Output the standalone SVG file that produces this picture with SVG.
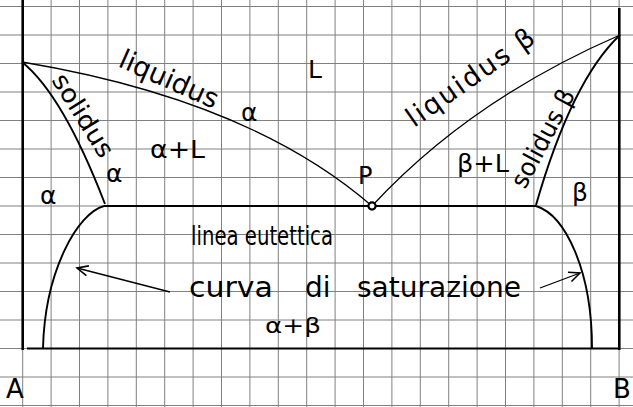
<svg xmlns="http://www.w3.org/2000/svg" width="633" height="407" viewBox="0 0 633 407">
<defs>
<style>
.grid{stroke:#808080;stroke-width:1;fill:none}
.ax{stroke:#000;stroke-width:2.6;fill:none}
.cv{stroke:#000;stroke-width:1.3;fill:none}
.cvb{stroke:#000;stroke-width:1.9;fill:none}
.t{font-family:"DejaVu Sans","Liberation Sans",sans-serif;fill:#000}
</style>
<marker id="ah" markerWidth="14" markerHeight="12" refX="12" refY="6" orient="auto" markerUnits="userSpaceOnUse">
<path d="M1,1 L12,6 L1,11" fill="none" stroke="#000" stroke-width="1.6"/>
</marker>
</defs>
<rect width="633" height="407" fill="#fff"/>
<g id="grid" class="grid">
<path d="M51.1,0V407M79.5,0V407M107.9,0V407M136.3,0V407M164.7,0V407M193.1,0V407M221.5,0V407M249.9,0V407M278.3,0V407M306.7,0V407M335.1,0V407M363.5,0V407M391.9,0V407M420.3,0V407M448.7,0V407M477.1,0V407M505.5,0V407M533.9,0V407M562.3,0V407M590.7,0V407M22.7,0V407M619.1,0V407"/>
<path d="M0,6.5H633M0,35H633M0,63.5H633M0,92H633M0,120.5H633M0,149H633M0,177.5H633M0,206H633M0,234.5H633M0,263H633M0,291.5H633M0,320H633M0,348.5H633M0,377H633M0,405.5H633"/>
</g>
<g id="axes">
<path class="ax" d="M22.7,0V350"/>
<path class="ax" d="M619.3,8V350"/>
<path class="cvb" d="M27,348.5H620"/>
</g>
<g id="connectors">
<path id="liquidus-alpha" class="cv" d="M22,62 Q250,100 372,206"/>
<path id="liquidus-beta" class="cv" d="M372,206 Q470,100 620,35"/>
<path id="solidus-alpha" class="cvb" d="M22,62 Q63,95 105,204"/>
<path id="solidus-beta" class="cvb" d="M620,35 Q572,80 536,205"/>
<path id="eutettica" class="cvb" d="M104,206H536"/>
<path id="solvus-alpha" class="cvb" d="M104,206 C78,213 45,270 43,348"/>
<path id="solvus-beta" class="cvb" d="M536,206 C565,215 592,270 592,348"/>
<path class="cv" d="M170,292 L77,268" marker-end="url(#ah)" stroke-width="1.6"/>
<path class="cv" d="M540,288 L580,273" marker-end="url(#ah)" stroke-width="1.6"/>
</g>
<g id="P">
<circle cx="372" cy="206" r="3.6" fill="#fff" stroke="#000" stroke-width="2.2"/>
<text class="t" x="358" y="184" style="font-size:24px">P</text>
</g>
<g id="labels">
<text class="t" transform="translate(117,66) rotate(24)" textLength="106" lengthAdjust="spacingAndGlyphs" style="font-size:27px">liquidus</text>
<text class="t" x="241" y="121" style="font-size:25px">α</text>
<text class="t" x="308" y="78" style="font-size:25px">L</text>
<text class="t" transform="translate(51,80) rotate(58)" textLength="94" lengthAdjust="spacingAndGlyphs" style="font-size:25px">solidus</text>
<text class="t" x="106" y="182" style="font-size:25px">α</text>
<text class="t" x="150" y="158" textLength="55" lengthAdjust="spacingAndGlyphs" style="font-size:24px">α+L</text>
<text class="t" x="40" y="204" style="font-size:25px">α</text>
<text class="t" transform="translate(414,128) rotate(-35)" textLength="150" lengthAdjust="spacing" style="font-size:27px">liquidus β</text>
<text class="t" x="457" y="172" textLength="52" lengthAdjust="spacingAndGlyphs" style="font-size:24px">β+L</text>
<text class="t" transform="translate(525,190) rotate(-62)" textLength="108" lengthAdjust="spacingAndGlyphs" style="font-size:25px">solidus β</text>
<text class="t" x="572" y="201" style="font-size:25px">β</text>
<text class="t" x="191" y="245" textLength="142" lengthAdjust="spacingAndGlyphs" style="font-size:26px">linea eutettica</text>
<text class="t" x="189" y="297" textLength="84" lengthAdjust="spacingAndGlyphs" style="font-size:28px">curva</text>
<text class="t" x="305" y="297" style="font-size:28px">di</text>
<text class="t" x="357" y="297" textLength="164" lengthAdjust="spacingAndGlyphs" style="font-size:28px">saturazione</text>
<text class="t" x="265" y="333" textLength="56" lengthAdjust="spacingAndGlyphs" style="font-size:22px">α+β</text>
<text class="t" x="6" y="398" style="font-size:26px">A</text>
<text class="t" x="613" y="398" style="font-size:26px">B</text>
</g>
</svg>
